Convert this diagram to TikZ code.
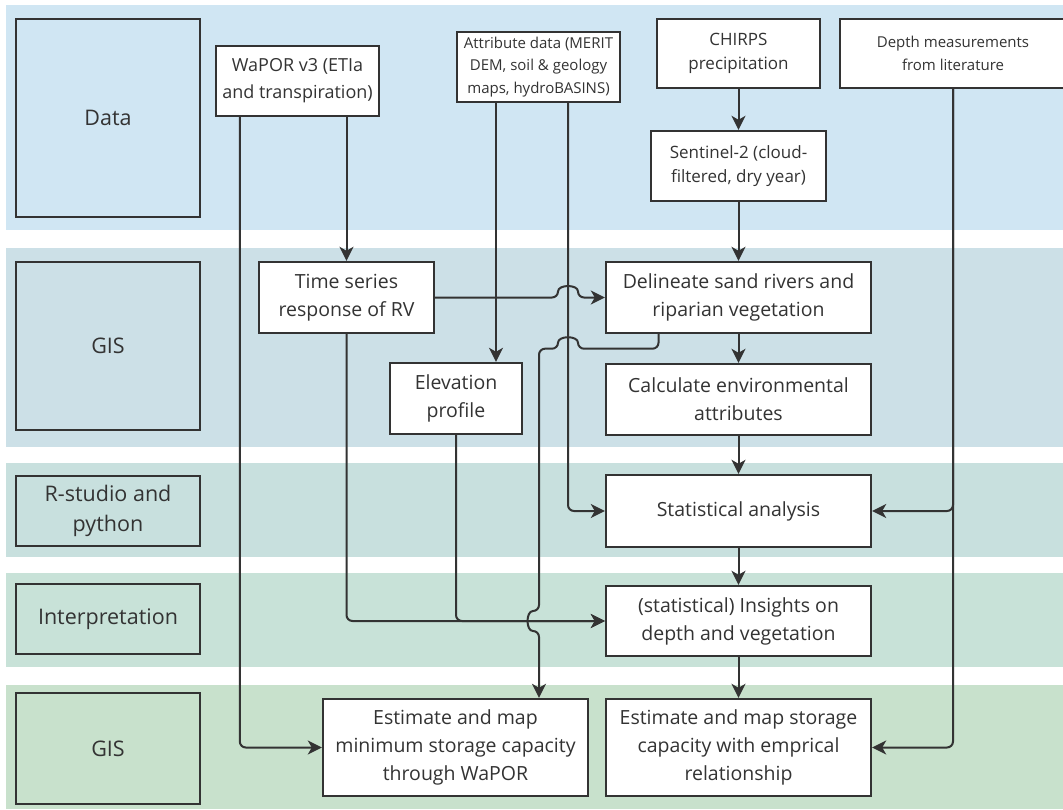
\documentclass[tikz,border=0pt]{standalone}
\usepackage{fontspec}
\setmainfont{Open Sans}
\usetikzlibrary{arrows.meta}
\definecolor{ink}{HTML}{333333}
\definecolor{bandData}{HTML}{D0E6F3}
\definecolor{bandGIS}{HTML}{CCE0E7}
\definecolor{bandR}{HTML}{C8E0DE}
\definecolor{bandInt}{HTML}{C8E2D8}
\definecolor{bandGISb}{HTML}{C8E1CC}

\begin{document}
\begin{tikzpicture}[x=1pt,y=-1pt,
  lane/.style={draw=ink,line width=2.4pt,text=ink,align=center,inner sep=0pt,
    minimum width=184,font=\fontsize{21.5}{30}\selectfont},
  box/.style={draw=ink,fill=white,line width=2.4pt,text=ink,align=center,inner sep=0pt,
    minimum width=265,minimum height=71,font=\fontsize{19.5}{28}\selectfont},
  small/.style={font=\fontsize{15}{22.5}\selectfont},
  mid/.style={font=\fontsize{17}{24}\selectfont},
  flow/.style={draw=ink,line width=2pt,rounded corners=6pt,
    -{Stealth[length=14pt,width=14pt,inset=4pt]}}]
  \useasboundingbox (0,0) rectangle (1063,809);
  % swim lanes
  \foreach \top/\bot/\col in {5/230/bandData,248/447/bandGIS,463/557/bandR,573/667/bandInt,685/809/bandGISb}
    \fill[\col] (6,\top) rectangle (1063,\bot);
  \node[lane,minimum height=198] (lData) at (108,118) {Data};
  \node[lane,minimum height=168] (lGIS) at (108,346) {GIS};
  \node[lane,minimum height=70] (lR) at (108,511) {R-studio and\\python};
  \node[lane,minimum height=70] (lInt) at (108,619) {Interpretation};
  \node[lane,minimum height=111] (lGISb) at (108,748.5) {GIS};
  % data sources
  \node[box,minimum width=163,minimum height=70,font=\fontsize{18}{27}\selectfont] (wapor) at (297.5,81) {WaPOR v3 (ETIa\\and transpiration)};
  \node[box,small,minimum width=163,minimum height=70] (attr) at (538.5,67) {Attribute data (MERIT\\DEM, soil \& geology\\maps, hydroBASINS)};
  \node[box,mid,minimum width=163,minimum height=69] (chirps) at (738.5,53.5) {CHIRPS\\precipitation};
  \node[box,small,minimum width=226,minimum height=69] (depth) at (953,53.5) {Depth measurements\\from literature};
  \node[box,mid,minimum width=175,minimum height=70] (sentinel) at (738.5,166) {Sentinel-2 (cloud-\\filtered, dry year)};
  % processing steps
  \node[box,minimum width=175] (ts) at (346.5,297.5) {Time series\\response of RV};
  \node[box] (delin) at (738.5,297.5) {Delineate sand rivers and\\riparian vegetation};
  \node[box,minimum width=132] (elev) at (456,398.5) {Elevation\\profile};
  \node[box] (calc) at (738.5,399.5) {Calculate environmental\\attributes};
  \node[box,minimum height=72] (stat) at (738.5,511) {Statistical analysis};
  \node[box,minimum height=70] (ins) at (738.5,621) {(statistical) Insights on\\depth and vegetation};
  \node[box,minimum height=97] (estmin) at (455.5,747.5) {Estimate and map\\minimum storage capacity\\through WaPOR};
  \node[box,minimum height=97] (estemp) at (738.5,747.5) {Estimate and map storage\\capacity with emprical\\relationship};
  % helper points
  \coordinate (waporOut) at ([xshift=25pt]wapor.south west);
  \coordinate (elevIn) at ([xshift=-42.5pt]attr.south);
  \coordinate (hopA) at ([xshift=29.5pt]attr.south);
  \coordinate (delOut) at ([xshift=-80pt]delin.south);
  \coordinate (bend) at ([yshift=-14.5pt]delOut);
  \coordinate (minIn) at ([xshift=83.5pt]estmin.north);
  % connectors
  \draw[flow] (ts.north |- wapor.south) -- (ts.north);
  \draw[flow] (waporOut) |- (estmin.west);
  \draw[flow] (elevIn) -- (elevIn |- elev.north);
  \draw[flow] (hopA) |- (stat.west);
  \draw[flow] (chirps) -- (sentinel);
  \draw[flow] (sentinel) -- (delin);
  \draw[flow] (ts.east) -- ([xshift=-10pt]ts.east -| hopA)
    .. controls +(0,-13.3) and +(0,-13.3) .. ([xshift=10pt]ts.east -| hopA) -- (delin.west);
  \draw[flow] (delOut) -- (bend) -- ([xshift=10pt]bend -| hopA)
    .. controls +(0,-13.3) and +(0,-13.3) .. ([xshift=-10pt]bend -| hopA)
    -- (bend -| minIn) -- ([yshift=10pt]ins.west -| minIn)
    .. controls +(-13.3,0) and +(-13.3,0) .. ([yshift=-10pt]ins.west -| minIn) -- (minIn);
  \draw[flow] (delin) -- (calc);
  \draw[flow] (calc) -- (stat);
  \draw[flow] (stat) -- (ins);
  \draw[flow] (ins) -- (estemp);
  \draw[flow] (ts.south) |- (ins.west);
  \draw[flow] (elev.south) |- (ins.west);
  \draw[flow] (depth.south) |- (stat.east);
  \draw[flow] (depth.south) |- (estemp.east);
\end{tikzpicture}
\end{document}
